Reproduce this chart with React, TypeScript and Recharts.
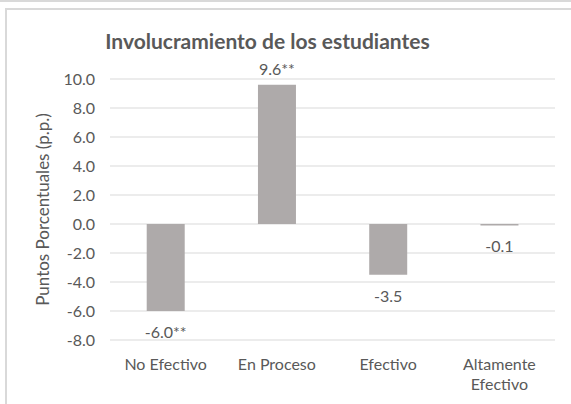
import { BarChart, Bar, XAxis, YAxis, CartesianGrid, LabelList } from "recharts";

const categories = ["No Efectivo", "En Proceso", "Efectivo", "Altamente Efectivo"];
const values = [-6.0, 9.6, -3.5, -0.1];
const valueLabels = ["-6.0**", "9.6**", "-3.5", "-0.1"];
const yTicks = [-8, -6, -4, -2, 0, 2, 4, 6, 8, 10];

const TEXT = "#595959";
const FONT = "Lato, 'Open Sans', sans-serif";

const data = categories.map((name, i) => ({
  name,
  value: values[i],
  label: valueLabels[i],
}));

function CategoryTick(props: any) {
  const { x, y, payload } = props;
  const words = String(payload.value);
  const lines = words === "Altamente Efectivo" ? ["Altamente", "Efectivo"] : [words];
  return (
    <text x={x} y={y} textAnchor="middle" fill={TEXT} fontSize={16} fontFamily={FONT}>
      {lines.map((line, i) => (
        <tspan key={i} x={x} dy={i === 0 ? 22 : 20}>
          {line}
        </tspan>
      ))}
    </text>
  );
}

function ValueLabel(props: any) {
  const { x, y, width, height, index } = props;
  const top = Math.min(y, y + height);
  const bottom = Math.max(y, y + height);
  const v = values[index];
  const ty = v >= 0 ? top - 10 : bottom + 27;
  return (
    <text x={x + width / 2} y={ty} textAnchor="middle" fill={TEXT} fontSize={16} fontFamily={FONT}>
      {valueLabels[index]}
    </text>
  );
}

export default function App() {
  return (
    <div
      style={{
        position: "absolute",
        left: 0,
        top: 0,
        width: 571,
        height: 404,
        background: "#fff",
        overflow: "hidden",
        fontFamily: FONT,
      }}
    >
      <div style={{ position: "absolute", left: 0, top: 0, width: 571, height: 2, background: "#D9D9D9" }} />
      <div
        style={{
          position: "absolute",
          left: 5,
          top: 8,
          width: 580,
          height: 410,
          borderLeft: "2px solid #D9D9D9",
          borderTop: "2px solid #D9D9D9",
        }}
      />
      <div
        style={{
          position: "absolute",
          left: 0,
          top: 28,
          width: 535,
          textAlign: "center",
          fontSize: 21,
          fontWeight: 700,
          color: TEXT,
        }}
      >
        Involucramiento de los estudiantes
      </div>
      <div style={{ position: "absolute", left: 0, top: 0 }}>
        <BarChart
          width={571}
          height={404}
          data={data}
          margin={{ top: 79, right: 16, left: 0, bottom: 14 }}
          barCategoryGap="33%"
        >
          <CartesianGrid vertical={false} stroke="#D9D9D9" strokeWidth={1} />
          <XAxis
            dataKey="name"
            axisLine={false}
            tickLine={false}
            height={50}
            interval={0}
            tick={<CategoryTick />}
          />
          <YAxis
            width={110}
            domain={[-8, 10]}
            ticks={yTicks}
            tickFormatter={(v: number) => v.toFixed(1)}
            axisLine={false}
            tickLine={false}
            tickMargin={9}
            tick={{ fill: TEXT, fontSize: 16, fontFamily: FONT }}
            label={{
              value: "Puntos Porcentuales (p.p.)",
              angle: -90,
              position: "insideLeft",
              offset: 43,
              style: { textAnchor: "middle", fill: TEXT, fontSize: 17, fontFamily: FONT },
            }}
          />
          <Bar dataKey="value" fill="#AEAAAA" isAnimationActive={false}>
            <LabelList dataKey="label" content={<ValueLabel />} />
          </Bar>
        </BarChart>
      </div>
    </div>
  );
}
